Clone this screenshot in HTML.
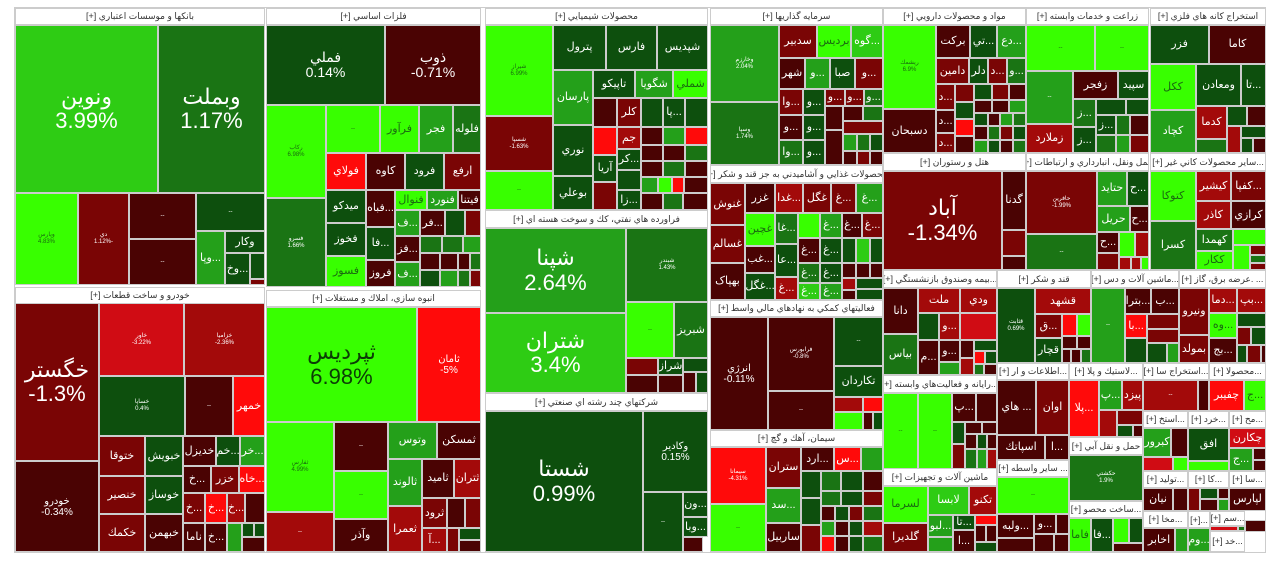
<!DOCTYPE html>
<html><head><meta charset="utf-8"><style>
body{margin:0;background:#fff;width:1280px;height:564px;overflow:hidden;position:relative;font-family:"Liberation Sans","DejaVu Sans",sans-serif}
.t{position:absolute;box-sizing:border-box;border:1px solid #ccc;display:flex;align-items:center;justify-content:center;flex-direction:column;color:#fff;text-align:center;overflow:hidden;font-size:11px;line-height:1.1;white-space:nowrap;direction:rtl}
.h{position:absolute;box-sizing:border-box;background:#fff;color:#333;font-size:9px;border:1px solid #ccc;display:flex;align-items:center;justify-content:center;overflow:hidden;white-space:nowrap;direction:rtl}
.s{font-size:6px}
.g1{background:#38ff00;color:#1a6a10}.g2{background:#2ecc14}.g3{background:#24a01a}.g4{background:#1a7414}.g5{background:#0d4f0d}
.r1{background:#ff0a0a}.r2{background:#d00c14}.r3{background:#a30a0a}.r4{background:#7a0505}.r5{background:#4a0303}
.L{font-size:22px;direction:ltr}.M{font-size:14px;direction:ltr}
</style></head><body>
<div style="position:absolute;left:14px;top:7px;width:1252px;height:546px;border:1px solid #ccc;box-sizing:border-box"></div>

<!-- Banks -->
<div class="h" style="left:15px;top:8px;width:250px;height:17px">بانکها و موسسات اعتباري [+]</div>
<div class="t g2 L" style="left:15px;top:25px;width:143px;height:168px">ونوين<br>3.99%</div>
<div class="t g4 L" style="left:158px;top:25px;width:107px;height:168px">وبملت<br>1.17%</div>
<div class="t g1 s" style="left:15px;top:193px;width:63px;height:92px">وپارس<br>4.83%</div>
<div class="t r4 s" style="left:78px;top:193px;width:51px;height:92px">دي<br>-1.12%</div>
<div class="t r5 s" style="left:129px;top:193px;width:67px;height:46px">--</div>
<div class="t r5 s" style="left:129px;top:239px;width:67px;height:46px">--</div>
<div class="t g5 s" style="left:196px;top:193px;width:69px;height:38px">--</div>
<div class="t g3" style="left:196px;top:231px;width:29px;height:54px">...وپا</div>
<div class="t g5" style="left:225px;top:231px;width:40px;height:22px">وکار</div>
<div class="t g5" style="left:225px;top:253px;width:25px;height:32px">...وخ</div>
<div class="t g5" style="left:250px;top:253px;width:15px;height:26px"></div>
<div class="t r4" style="left:250px;top:279px;width:15px;height:6px"></div>

<!-- Metals -->
<div class="h" style="left:266px;top:8px;width:215px;height:17px">فلزات اساسي [+]</div>
<div class="t g5 M" style="left:266px;top:25px;width:119px;height:80px">فملي<br>0.14%</div>
<div class="t r5 M" style="left:385px;top:25px;width:96px;height:80px">ذوب<br>-0.71%</div>
<div class="t g1 s" style="left:266px;top:105px;width:60px;height:93px">رکاب<br>6.98%</div>
<div class="t g4 s" style="left:266px;top:198px;width:60px;height:89px">فسرو<br>1.66%</div>
<div class="t g1 s" style="left:326px;top:105px;width:54px;height:48px">--</div>
<div class="t g1" style="left:380px;top:105px;width:39px;height:48px">فرآور</div>
<div class="t g3" style="left:419px;top:105px;width:34px;height:48px">فجر</div>
<div class="t g4" style="left:453px;top:105px;width:28px;height:48px">فلوله</div>
<div class="t r1" style="left:326px;top:153px;width:40px;height:37px">فولاي</div>
<div class="t r5" style="left:366px;top:153px;width:39px;height:37px">کاوه</div>
<div class="t g5" style="left:405px;top:153px;width:39px;height:37px">فرود</div>
<div class="t r4" style="left:444px;top:153px;width:37px;height:37px">ارفع</div>
<div class="t g5" style="left:326px;top:190px;width:40px;height:33px">ميدکو</div>
<div class="t r5" style="left:366px;top:190px;width:29px;height:37px">...فباه</div>
<div class="t g1" style="left:395px;top:190px;width:32px;height:20px">فنوال</div>
<div class="t g3" style="left:427px;top:190px;width:31px;height:20px">فنورد</div>
<div class="t r5" style="left:458px;top:190px;width:23px;height:20px">فيتنا</div>
<div class="t g3" style="left:395px;top:210px;width:25px;height:26px">...ف</div>
<div class="t r5" style="left:420px;top:210px;width:25px;height:26px">...فر</div>
<div class="t g5" style="left:445px;top:210px;width:20px;height:26px"></div>
<div class="t r4" style="left:465px;top:210px;width:16px;height:26px"></div>
<div class="t g5" style="left:326px;top:223px;width:40px;height:33px">فخوز</div>
<div class="t g5" style="left:366px;top:227px;width:29px;height:33px">...فا</div>
<div class="t r5" style="left:395px;top:236px;width:25px;height:26px">...فز</div>
<div class="t g4" style="left:420px;top:236px;width:22px;height:17px"></div>
<div class="t g4" style="left:442px;top:236px;width:21px;height:17px"></div>
<div class="t g3" style="left:463px;top:236px;width:18px;height:17px"></div>
<div class="t r5" style="left:420px;top:253px;width:20px;height:17px"></div>
<div class="t r5" style="left:440px;top:253px;width:18px;height:17px"></div>
<div class="t r5" style="left:458px;top:253px;width:12px;height:17px"></div>
<div class="t g4" style="left:470px;top:253px;width:11px;height:17px"></div>
<div class="t g1" style="left:326px;top:256px;width:40px;height:31px">فسوز</div>
<div class="t r5" style="left:366px;top:260px;width:29px;height:27px">فروز</div>
<div class="t g3" style="left:395px;top:262px;width:25px;height:25px">...ف</div>
<div class="t g5" style="left:420px;top:270px;width:20px;height:17px"></div>
<div class="t g3" style="left:440px;top:270px;width:18px;height:17px"></div>
<div class="t g4" style="left:458px;top:270px;width:12px;height:17px"></div>
<div class="t r4" style="left:470px;top:270px;width:11px;height:17px"></div>

<!-- Autos -->
<div class="h" style="left:15px;top:287px;width:250px;height:17px">خودرو و ساخت قطعات [+]</div>
<div class="t r4 L" style="left:15px;top:303px;width:84px;height:158px">خگستر<br>-1.3%</div>
<div class="t r5" style="left:15px;top:461px;width:84px;height:91px;font-size:10px;direction:ltr">خودرو<br>-0.34%</div>
<div class="t r2 s" style="left:99px;top:303px;width:85px;height:73px;direction:ltr">خاور<br>-3.22%</div>
<div class="t r3 s" style="left:184px;top:303px;width:81px;height:73px;direction:ltr">خزاميا<br>-2.36%</div>
<div class="t g5 s" style="left:99px;top:376px;width:86px;height:60px">خساپا<br>0.4%</div>
<div class="t r5 s" style="left:185px;top:376px;width:48px;height:60px">--</div>
<div class="t r1" style="left:233px;top:376px;width:32px;height:60px">خمهر</div>
<div class="t r4" style="left:99px;top:436px;width:46px;height:40px">ختوقا</div>
<div class="t g5" style="left:145px;top:436px;width:38px;height:40px">خبويش</div>
<div class="t r4" style="left:99px;top:476px;width:46px;height:38px">خنصير</div>
<div class="t g5" style="left:145px;top:476px;width:38px;height:38px">خوساز</div>
<div class="t r4" style="left:99px;top:514px;width:46px;height:38px">خکمك</div>
<div class="t r5" style="left:145px;top:514px;width:38px;height:38px">خبهمن</div>
<div class="t r5" style="left:183px;top:436px;width:33px;height:30px">خديزل</div>
<div class="t g5" style="left:216px;top:436px;width:24px;height:30px">...خم</div>
<div class="t g3" style="left:240px;top:436px;width:25px;height:30px">...خر</div>
<div class="t r5" style="left:183px;top:466px;width:28px;height:27px">...خ</div>
<div class="t r4" style="left:211px;top:466px;width:28px;height:27px">خزر</div>
<div class="t r1" style="left:239px;top:466px;width:26px;height:27px">...خاه</div>
<div class="t r4" style="left:183px;top:493px;width:22px;height:30px">...خ</div>
<div class="t r1" style="left:205px;top:493px;width:22px;height:30px">...خ</div>
<div class="t r3" style="left:227px;top:493px;width:18px;height:30px">...خ</div>
<div class="t r5" style="left:245px;top:493px;width:20px;height:30px"></div>
<div class="t r5" style="left:183px;top:523px;width:22px;height:29px">ناما</div>
<div class="t r5" style="left:205px;top:523px;width:22px;height:29px">...خ</div>
<div class="t g3" style="left:227px;top:523px;width:15px;height:29px"></div>
<div class="t g5" style="left:242px;top:523px;width:12px;height:14px"></div>
<div class="t g5" style="left:254px;top:523px;width:11px;height:14px"></div>
<div class="t r5" style="left:242px;top:537px;width:23px;height:15px"></div>

<!-- Construction -->
<div class="h" style="left:266px;top:290px;width:215px;height:17px">انبوه سازي، املاك و مستغلات [+]</div>
<div class="t g1 L" style="left:266px;top:307px;width:151px;height:115px;color:#0c3d06">ثپرديس<br>6.98%</div>
<div class="t r1" style="left:417px;top:307px;width:64px;height:115px;font-size:10px;direction:ltr">ثامان<br>-5%</div>
<div class="t g1 s" style="left:266px;top:422px;width:68px;height:90px">ثفارس<br>4.99%</div>
<div class="t r3 s" style="left:266px;top:512px;width:68px;height:40px">--</div>
<div class="t r5 s" style="left:334px;top:422px;width:54px;height:49px">--</div>
<div class="t g1 s" style="left:334px;top:471px;width:54px;height:48px">--</div>
<div class="t r5" style="left:334px;top:519px;width:54px;height:33px">وآذر</div>
<div class="t g3" style="left:388px;top:422px;width:49px;height:37px">وتوس</div>
<div class="t r5" style="left:437px;top:422px;width:44px;height:37px">ثمسکن</div>
<div class="t g3" style="left:388px;top:459px;width:34px;height:47px">ثالوند</div>
<div class="t r5" style="left:422px;top:459px;width:32px;height:39px">ثاميد</div>
<div class="t r3" style="left:454px;top:459px;width:27px;height:39px">ثتران</div>
<div class="t r3" style="left:388px;top:506px;width:34px;height:46px">ثعمرا</div>
<div class="t r4" style="left:422px;top:498px;width:25px;height:30px">ثرود</div>
<div class="t r5" style="left:447px;top:498px;width:18px;height:30px"></div>
<div class="t r4" style="left:465px;top:498px;width:16px;height:30px"></div>
<div class="t r3" style="left:422px;top:528px;width:25px;height:24px">...آ</div>
<div class="t r4" style="left:447px;top:528px;width:12px;height:24px"></div>
<div class="t g5" style="left:459px;top:528px;width:22px;height:12px"></div>
<div class="t r5" style="left:459px;top:540px;width:22px;height:12px"></div>

<!-- Chemicals -->
<div class="h" style="left:485px;top:8px;width:223px;height:17px">محصولات شيميايي [+]</div>
<div class="t g1 s" style="left:485px;top:25px;width:68px;height:91px">شيراز<br>6.99%</div>
<div class="t r4 s" style="left:485px;top:116px;width:68px;height:55px;direction:ltr">شسپا<br>-1.63%</div>
<div class="t g1 s" style="left:485px;top:171px;width:68px;height:39px">--</div>
<div class="t g5" style="left:553px;top:25px;width:53px;height:45px">پترول</div>
<div class="t g5" style="left:606px;top:25px;width:51px;height:45px">فارس</div>
<div class="t g5" style="left:657px;top:25px;width:51px;height:45px">شپديس</div>
<div class="t g3" style="left:553px;top:70px;width:40px;height:55px">پارسان</div>
<div class="t g5" style="left:593px;top:70px;width:42px;height:28px">تاپيکو</div>
<div class="t g3" style="left:635px;top:70px;width:38px;height:28px">شگويا</div>
<div class="t g1" style="left:673px;top:70px;width:35px;height:28px">شملي</div>
<div class="t g5" style="left:553px;top:125px;width:40px;height:51px">نوري</div>
<div class="t g5" style="left:553px;top:176px;width:40px;height:34px">بوعلي</div>
<div class="t r5" style="left:593px;top:98px;width:24px;height:29px"></div>
<div class="t r4" style="left:617px;top:98px;width:24px;height:29px">کلر</div>
<div class="t g5" style="left:641px;top:98px;width:22px;height:29px"></div>
<div class="t g5" style="left:663px;top:98px;width:22px;height:29px">...پا</div>
<div class="t g5" style="left:685px;top:98px;width:23px;height:29px"></div>
<div class="t r1" style="left:593px;top:127px;width:24px;height:28px"></div>
<div class="t r3" style="left:617px;top:127px;width:24px;height:22px">جم</div>
<div class="t r5" style="left:641px;top:127px;width:22px;height:18px"></div>
<div class="t g3" style="left:663px;top:127px;width:22px;height:18px"></div>
<div class="t r1" style="left:685px;top:127px;width:23px;height:18px"></div>
<div class="t g5" style="left:593px;top:155px;width:24px;height:27px">آريا</div>
<div class="t g5" style="left:617px;top:149px;width:24px;height:21px">...کر</div>
<div class="t g5" style="left:617px;top:170px;width:24px;height:20px"></div>
<div class="t r5" style="left:641px;top:145px;width:22px;height:16px"></div>
<div class="t r5" style="left:663px;top:145px;width:22px;height:16px"></div>
<div class="t g4" style="left:685px;top:145px;width:23px;height:16px"></div>
<div class="t r5" style="left:641px;top:161px;width:22px;height:16px"></div>
<div class="t g4" style="left:663px;top:161px;width:22px;height:16px"></div>
<div class="t r5" style="left:685px;top:161px;width:23px;height:16px"></div>
<div class="t g3" style="left:641px;top:177px;width:17px;height:16px"></div>
<div class="t g1" style="left:658px;top:177px;width:14px;height:16px"></div>
<div class="t r1" style="left:672px;top:177px;width:12px;height:16px"></div>
<div class="t r5" style="left:684px;top:177px;width:24px;height:16px"></div>
<div class="t r4" style="left:593px;top:182px;width:24px;height:28px"></div>
<div class="t g5" style="left:617px;top:190px;width:24px;height:20px">...زا</div>
<div class="t r5" style="left:641px;top:193px;width:22px;height:17px"></div>
<div class="t g4" style="left:663px;top:193px;width:20px;height:17px"></div>
<div class="t r5" style="left:683px;top:193px;width:25px;height:17px"></div>

<!-- Refinery -->
<div class="h" style="left:485px;top:210px;width:223px;height:18px">فراورده هاي نفتي، كك و سوخت هسته اي [+]</div>
<div class="t g3 L" style="left:485px;top:228px;width:141px;height:85px">شپنا<br>2.64%</div>
<div class="t g2 L" style="left:485px;top:313px;width:141px;height:80px">شتران<br>3.4%</div>
<div class="t g4 s" style="left:626px;top:228px;width:82px;height:74px">شبندر<br>1.43%</div>
<div class="t g1 s" style="left:626px;top:302px;width:48px;height:56px">--</div>
<div class="t g4" style="left:674px;top:302px;width:34px;height:56px">شبريز</div>
<div class="t r4" style="left:626px;top:358px;width:32px;height:17px"></div>
<div class="t r5" style="left:626px;top:375px;width:32px;height:18px"></div>
<div class="t g5" style="left:658px;top:358px;width:25px;height:17px">شراز</div>
<div class="t r5" style="left:658px;top:375px;width:25px;height:18px"></div>
<div class="t g5" style="left:683px;top:358px;width:25px;height:14px"></div>
<div class="t r5" style="left:683px;top:372px;width:13px;height:21px"></div>
<div class="t g5" style="left:696px;top:372px;width:12px;height:21px"></div>

<!-- Multi -->
<div class="h" style="left:485px;top:393px;width:223px;height:18px">شركتهاي چند رشته اي صنعتي [+]</div>
<div class="t g5 L" style="left:485px;top:411px;width:158px;height:141px">شستا<br>0.99%</div>
<div class="t g5" style="left:643px;top:411px;width:65px;height:81px;font-size:10px">وكادير<br>0.15%</div>
<div class="t g5 s" style="left:643px;top:492px;width:40px;height:60px">--</div>
<div class="t g5" style="left:683px;top:492px;width:25px;height:25px">...ون</div>
<div class="t g5" style="left:683px;top:517px;width:25px;height:20px">...وبا</div>
<div class="t r5" style="left:683px;top:537px;width:20px;height:15px"></div>

<!-- Investment -->
<div class="h" style="left:710px;top:8px;width:173px;height:17px">سرمايه گذاريها [+]</div>
<div class="t g3 s" style="left:710px;top:25px;width:69px;height:77px">وخارزم<br>2.04%</div>
<div class="t g4 s" style="left:710px;top:102px;width:69px;height:63px">وسپا<br>1.74%</div>
<div class="t r4" style="left:779px;top:25px;width:38px;height:33px">سدبير</div>
<div class="t g1" style="left:817px;top:25px;width:34px;height:33px">برديس</div>
<div class="t g2" style="left:851px;top:25px;width:32px;height:33px">...گوه</div>
<div class="t r5" style="left:779px;top:58px;width:26px;height:31px">شهر</div>
<div class="t g3" style="left:805px;top:58px;width:25px;height:31px">...و</div>
<div class="t g5" style="left:830px;top:58px;width:25px;height:31px">صبا</div>
<div class="t r4" style="left:855px;top:58px;width:28px;height:31px">...و</div>
<div class="t r4" style="left:779px;top:89px;width:24px;height:26px">...وا</div>
<div class="t g5" style="left:803px;top:89px;width:22px;height:26px">...و</div>
<div class="t r4" style="left:825px;top:89px;width:20px;height:17px">...و</div>
<div class="t r4" style="left:845px;top:89px;width:19px;height:17px">...و</div>
<div class="t g4" style="left:864px;top:89px;width:19px;height:17px">...و</div>
<div class="t r5" style="left:779px;top:115px;width:24px;height:25px">...و</div>
<div class="t g5" style="left:803px;top:115px;width:22px;height:25px">...و</div>
<div class="t g4" style="left:779px;top:140px;width:24px;height:25px">...وا</div>
<div class="t g5" style="left:803px;top:140px;width:22px;height:25px">...و</div>
<div class="t r5" style="left:825px;top:106px;width:18px;height:24px"></div>
<div class="t r5" style="left:843px;top:106px;width:20px;height:15px"></div>
<div class="t g4" style="left:863px;top:106px;width:20px;height:15px"></div>
<div class="t r4" style="left:843px;top:121px;width:40px;height:13px"></div>
<div class="t r5" style="left:825px;top:130px;width:18px;height:35px"></div>
<div class="t g3" style="left:843px;top:134px;width:14px;height:17px"></div>
<div class="t g4" style="left:857px;top:134px;width:13px;height:17px"></div>
<div class="t g5" style="left:870px;top:134px;width:13px;height:17px"></div>
<div class="t r5" style="left:843px;top:151px;width:14px;height:14px"></div>
<div class="t r4" style="left:857px;top:151px;width:13px;height:14px"></div>
<div class="t r5" style="left:870px;top:151px;width:13px;height:14px"></div>

<!-- Food -->
<div class="h" style="left:710px;top:165px;width:173px;height:18px">محصولات غذايي و آشاميدني به جز قند و شكر [+]</div>
<div class="t r4" style="left:710px;top:183px;width:35px;height:42px">غنوش</div>
<div class="t r4" style="left:710px;top:225px;width:35px;height:38px">غسالم</div>
<div class="t r5" style="left:710px;top:263px;width:35px;height:37px">بهپاک</div>
<div class="t r5" style="left:745px;top:183px;width:30px;height:30px">غزر</div>
<div class="t g1" style="left:745px;top:213px;width:30px;height:33px">غچين</div>
<div class="t r5" style="left:745px;top:246px;width:30px;height:27px">...غب</div>
<div class="t g5" style="left:745px;top:273px;width:30px;height:27px">...غگل</div>
<div class="t r3" style="left:775px;top:183px;width:28px;height:30px">...غدا</div>
<div class="t r4" style="left:803px;top:183px;width:28px;height:30px">غگل</div>
<div class="t r4" style="left:831px;top:183px;width:25px;height:30px">...غ</div>
<div class="t g3" style="left:856px;top:183px;width:27px;height:30px">...غ</div>
<div class="t g4" style="left:775px;top:213px;width:23px;height:31px">...غا</div>
<div class="t g5" style="left:775px;top:244px;width:23px;height:33px">...عا</div>
<div class="t r3" style="left:775px;top:277px;width:23px;height:23px">...غ</div>
<div class="t g1" style="left:798px;top:213px;width:22px;height:25px"></div>
<div class="t g3" style="left:820px;top:213px;width:22px;height:25px">...غ</div>
<div class="t r5" style="left:842px;top:213px;width:20px;height:25px">...غ</div>
<div class="t r4" style="left:862px;top:213px;width:21px;height:25px">...غ</div>
<div class="t r5" style="left:798px;top:238px;width:22px;height:25px">...غ</div>
<div class="t g5" style="left:820px;top:238px;width:22px;height:25px">...غ</div>
<div class="t g5" style="left:842px;top:238px;width:14px;height:25px"></div>
<div class="t g2" style="left:856px;top:238px;width:14px;height:25px"></div>
<div class="t g5" style="left:870px;top:238px;width:13px;height:25px"></div>
<div class="t g4" style="left:798px;top:263px;width:22px;height:20px">...غ</div>
<div class="t g5" style="left:820px;top:263px;width:22px;height:20px">...غ</div>
<div class="t r5" style="left:842px;top:263px;width:14px;height:15px"></div>
<div class="t r5" style="left:856px;top:263px;width:14px;height:15px"></div>
<div class="t r5" style="left:870px;top:263px;width:13px;height:15px"></div>
<div class="t g2" style="left:798px;top:283px;width:22px;height:17px">...غ</div>
<div class="t g3" style="left:820px;top:283px;width:22px;height:17px">...غ</div>
<div class="t r3" style="left:842px;top:278px;width:14px;height:12px"></div>
<div class="t r5" style="left:842px;top:290px;width:14px;height:10px"></div>
<div class="t g5" style="left:856px;top:278px;width:27px;height:11px"></div>
<div class="t g5" style="left:856px;top:289px;width:27px;height:11px"></div>

<!-- Financial aux -->
<div class="h" style="left:710px;top:300px;width:173px;height:17px">فعاليتهاي كمكي به نهادهاي مالي واسط [+]</div>
<div class="t r5" style="left:710px;top:317px;width:58px;height:113px;font-size:10px;direction:ltr">انرژي<br>-0.11%</div>
<div class="t r5 s" style="left:768px;top:317px;width:66px;height:74px;direction:ltr">فرابورس<br>-0.8%</div>
<div class="t r5 s" style="left:768px;top:391px;width:66px;height:39px">--</div>
<div class="t g5 s" style="left:834px;top:317px;width:49px;height:49px">--</div>
<div class="t g5" style="left:834px;top:366px;width:49px;height:31px">تکاردان</div>
<div class="t r3" style="left:834px;top:397px;width:29px;height:15px"></div>
<div class="t r1" style="left:863px;top:397px;width:20px;height:15px"></div>
<div class="t g1" style="left:834px;top:412px;width:29px;height:18px"></div>
<div class="t r5" style="left:863px;top:412px;width:10px;height:18px"></div>
<div class="t g5" style="left:873px;top:412px;width:10px;height:18px"></div>

<!-- Cement -->
<div class="h" style="left:710px;top:430px;width:173px;height:17px">سيمان، آهك و گچ [+]</div>
<div class="t r1 s" style="left:710px;top:447px;width:56px;height:57px;direction:ltr">سيمانا<br>-4.31%</div>
<div class="t g1 s" style="left:710px;top:504px;width:56px;height:48px">--</div>
<div class="t r4" style="left:766px;top:447px;width:35px;height:41px">ستران</div>
<div class="t g3" style="left:766px;top:488px;width:35px;height:35px">...سد</div>
<div class="t r5" style="left:766px;top:523px;width:35px;height:29px">ساربيل</div>
<div class="t r5" style="left:801px;top:447px;width:33px;height:24px">...ارد</div>
<div class="t r1" style="left:834px;top:447px;width:27px;height:24px">...س</div>
<div class="t g3" style="left:861px;top:447px;width:22px;height:24px"></div>
<div class="t g5" style="left:801px;top:471px;width:20px;height:27px"></div>
<div class="t g4" style="left:821px;top:471px;width:20px;height:20px"></div>
<div class="t g5" style="left:841px;top:471px;width:22px;height:20px"></div>
<div class="t r5" style="left:863px;top:471px;width:20px;height:20px"></div>
<div class="t g5" style="left:801px;top:498px;width:20px;height:27px"></div>
<div class="t r4" style="left:801px;top:525px;width:20px;height:27px"></div>
<div class="t g4" style="left:821px;top:491px;width:20px;height:15px"></div>
<div class="t g5" style="left:841px;top:491px;width:22px;height:15px"></div>
<div class="t r4" style="left:863px;top:491px;width:20px;height:15px"></div>
<div class="t r5" style="left:821px;top:506px;width:14px;height:15px"></div>
<div class="t g5" style="left:835px;top:506px;width:14px;height:15px"></div>
<div class="t r4" style="left:849px;top:506px;width:14px;height:15px"></div>
<div class="t g4" style="left:863px;top:506px;width:20px;height:15px"></div>
<div class="t g3" style="left:821px;top:521px;width:14px;height:15px"></div>
<div class="t r5" style="left:835px;top:521px;width:14px;height:15px"></div>
<div class="t g5" style="left:849px;top:521px;width:14px;height:15px"></div>
<div class="t r3" style="left:863px;top:521px;width:20px;height:15px"></div>
<div class="t r1" style="left:821px;top:536px;width:14px;height:16px"></div>
<div class="t r5" style="left:835px;top:536px;width:14px;height:16px"></div>
<div class="t g5" style="left:849px;top:536px;width:14px;height:16px"></div>
<div class="t g4" style="left:863px;top:536px;width:20px;height:16px"></div>

<!-- Pharma -->
<div class="h" style="left:883px;top:8px;width:143px;height:17px">مواد و محصولات دارويي [+]</div>
<div class="t g1 s" style="left:883px;top:25px;width:53px;height:84px">ريشمك<br>6.9%</div>
<div class="t r5" style="left:883px;top:109px;width:53px;height:44px">دسبحان</div>
<div class="t r5" style="left:936px;top:25px;width:34px;height:33px">برکت</div>
<div class="t g5" style="left:970px;top:25px;width:27px;height:33px">...تي</div>
<div class="t g3" style="left:997px;top:25px;width:29px;height:33px">...دع</div>
<div class="t r4" style="left:936px;top:58px;width:33px;height:26px">دامين</div>
<div class="t g5" style="left:969px;top:58px;width:19px;height:26px">دلر</div>
<div class="t r4" style="left:988px;top:58px;width:19px;height:26px">...د</div>
<div class="t g4" style="left:1007px;top:58px;width:19px;height:26px">...و</div>
<div class="t r4" style="left:936px;top:84px;width:19px;height:26px">...د</div>
<div class="t r5" style="left:936px;top:110px;width:19px;height:23px">...د</div>
<div class="t r4" style="left:936px;top:133px;width:19px;height:20px">...د</div>
<div class="t r4" style="left:955px;top:84px;width:19px;height:18px"></div>
<div class="t g5" style="left:955px;top:102px;width:19px;height:17px"></div>
<div class="t r1" style="left:955px;top:119px;width:19px;height:17px"></div>
<div class="t r5" style="left:955px;top:136px;width:19px;height:17px"></div>
<div class="t g5" style="left:974px;top:84px;width:18px;height:16px"></div>
<div class="t r4" style="left:992px;top:84px;width:17px;height:16px"></div>
<div class="t r5" style="left:1009px;top:84px;width:17px;height:16px"></div>
<div class="t r5" style="left:974px;top:100px;width:18px;height:13px"></div>
<div class="t r5" style="left:992px;top:100px;width:17px;height:13px"></div>
<div class="t g3" style="left:1009px;top:100px;width:17px;height:13px"></div>
<div class="t g5" style="left:974px;top:113px;width:14px;height:13px"></div>
<div class="t r5" style="left:988px;top:113px;width:12px;height:13px"></div>
<div class="t g3" style="left:1000px;top:113px;width:13px;height:13px"></div>
<div class="t g4" style="left:1013px;top:113px;width:13px;height:13px"></div>
<div class="t r5" style="left:974px;top:126px;width:14px;height:14px"></div>
<div class="t g4" style="left:988px;top:126px;width:12px;height:14px"></div>
<div class="t r4" style="left:1000px;top:126px;width:13px;height:14px"></div>
<div class="t g5" style="left:1013px;top:126px;width:13px;height:14px"></div>
<div class="t g3" style="left:974px;top:140px;width:14px;height:13px"></div>
<div class="t g5" style="left:988px;top:140px;width:12px;height:13px"></div>
<div class="t r5" style="left:1000px;top:140px;width:13px;height:13px"></div>
<div class="t g4" style="left:1013px;top:140px;width:13px;height:13px"></div>

<!-- Agriculture -->
<div class="h" style="left:1026px;top:8px;width:123px;height:17px">زراعت و خدمات وابسته [+]</div>
<div class="t g1 s" style="left:1026px;top:25px;width:69px;height:46px">--</div>
<div class="t g1 s" style="left:1095px;top:25px;width:54px;height:46px">--</div>
<div class="t g3 s" style="left:1026px;top:71px;width:47px;height:53px">--</div>
<div class="t r3" style="left:1026px;top:124px;width:47px;height:29px">زملارد</div>
<div class="t r5" style="left:1073px;top:71px;width:45px;height:28px">زفجر</div>
<div class="t g5" style="left:1118px;top:71px;width:31px;height:28px">سپيد</div>
<div class="t g4" style="left:1073px;top:99px;width:23px;height:28px">...ز</div>
<div class="t g5" style="left:1073px;top:127px;width:23px;height:26px">...ز</div>
<div class="t g5" style="left:1096px;top:99px;width:30px;height:16px"></div>
<div class="t g5" style="left:1126px;top:99px;width:23px;height:16px"></div>
<div class="t g5" style="left:1096px;top:115px;width:20px;height:20px">...ز</div>
<div class="t g4" style="left:1116px;top:115px;width:14px;height:20px"></div>
<div class="t r5" style="left:1130px;top:115px;width:19px;height:20px"></div>
<div class="t g4" style="left:1096px;top:135px;width:20px;height:18px"></div>
<div class="t g3" style="left:1116px;top:135px;width:14px;height:18px"></div>
<div class="t r4" style="left:1130px;top:135px;width:19px;height:18px"></div>

<!-- Mining -->
<div class="h" style="left:1150px;top:8px;width:116px;height:17px">استخراج کانه هاي فلزي [+]</div>
<div class="t g5" style="left:1150px;top:25px;width:59px;height:39px">فزر</div>
<div class="t r5" style="left:1209px;top:25px;width:57px;height:39px">کاما</div>
<div class="t g1" style="left:1150px;top:64px;width:46px;height:46px">ککل</div>
<div class="t g3" style="left:1150px;top:110px;width:46px;height:43px">کچاد</div>
<div class="t g5" style="left:1196px;top:64px;width:45px;height:42px">ومعادن</div>
<div class="t g5" style="left:1241px;top:64px;width:25px;height:42px">...تا</div>
<div class="t r3" style="left:1196px;top:106px;width:31px;height:33px">کدما</div>
<div class="t g5" style="left:1227px;top:106px;width:20px;height:20px"></div>
<div class="t r5" style="left:1247px;top:106px;width:19px;height:20px"></div>
<div class="t r3" style="left:1227px;top:126px;width:14px;height:27px"></div>
<div class="t g5" style="left:1241px;top:126px;width:25px;height:12px"></div>
<div class="t g4" style="left:1196px;top:139px;width:31px;height:14px"></div>
<div class="t g5" style="left:1241px;top:138px;width:12px;height:15px"></div>
<div class="t r5" style="left:1253px;top:138px;width:13px;height:15px"></div>

<!-- Hotel -->
<div class="h" style="left:883px;top:153px;width:143px;height:18px">هتل و رستوران [+]</div>
<div class="t r4 L" style="left:883px;top:171px;width:119px;height:99px">آباد<br>-1.34%</div>
<div class="t r5" style="left:1002px;top:171px;width:24px;height:59px">گدنا</div>
<div class="t r4" style="left:1002px;top:230px;width:24px;height:26px"></div>
<div class="t r5" style="left:1002px;top:256px;width:24px;height:14px"></div>

<!-- Transport -->
<div class="h" style="left:1026px;top:153px;width:123px;height:18px">حمل ونقل، انبارداري و ارتباطات [+]</div>
<div class="t r4 s" style="left:1026px;top:171px;width:71px;height:63px;direction:ltr">حافرين<br>-1.99%</div>
<div class="t g4 s" style="left:1026px;top:234px;width:71px;height:36px">--</div>
<div class="t g3" style="left:1097px;top:171px;width:30px;height:35px">حتايد</div>
<div class="t g5" style="left:1127px;top:171px;width:22px;height:35px">...ح</div>
<div class="t g3" style="left:1097px;top:206px;width:33px;height:26px">حريل</div>
<div class="t r5" style="left:1130px;top:206px;width:19px;height:26px">...ح</div>
<div class="t r5" style="left:1097px;top:232px;width:22px;height:21px">...ح</div>
<div class="t r4" style="left:1097px;top:253px;width:22px;height:17px"></div>
<div class="t g1" style="left:1119px;top:232px;width:16px;height:25px"></div>
<div class="t r3" style="left:1135px;top:232px;width:14px;height:25px"></div>
<div class="t r3" style="left:1119px;top:257px;width:12px;height:13px"></div>
<div class="t r3" style="left:1131px;top:257px;width:10px;height:13px"></div>
<div class="t g1" style="left:1141px;top:257px;width:8px;height:13px"></div>

<!-- Other non-metal -->
<div class="h" style="left:1150px;top:153px;width:116px;height:18px">...ساير محصولات كاني غير [+]</div>
<div class="t g1" style="left:1150px;top:171px;width:46px;height:50px">کتوکا</div>
<div class="t g4" style="left:1150px;top:221px;width:46px;height:49px">کسرا</div>
<div class="t r3" style="left:1196px;top:171px;width:35px;height:30px">کيشير</div>
<div class="t r4" style="left:1231px;top:171px;width:35px;height:30px">...کفپا</div>
<div class="t r3" style="left:1196px;top:201px;width:35px;height:28px">کاذر</div>
<div class="t r5" style="left:1231px;top:201px;width:35px;height:28px">کرازي</div>
<div class="t g4" style="left:1196px;top:229px;width:37px;height:22px">کهمدا</div>
<div class="t g1" style="left:1233px;top:229px;width:33px;height:16px"></div>
<div class="t g1" style="left:1196px;top:251px;width:37px;height:19px">ککار</div>
<div class="t g1" style="left:1233px;top:245px;width:17px;height:25px"></div>
<div class="t r4" style="left:1250px;top:245px;width:16px;height:10px"></div>
<div class="t g4" style="left:1250px;top:255px;width:16px;height:8px"></div>
<div class="t r4" style="left:1250px;top:263px;width:16px;height:7px"></div>

<!-- Insurance -->
<div class="h" style="left:883px;top:270px;width:114px;height:18px">...بيمه وصندوق بازنشستگي [+]</div>
<div class="t r5" style="left:883px;top:288px;width:35px;height:46px">دانا</div>
<div class="t g4" style="left:883px;top:334px;width:35px;height:41px">بياس</div>
<div class="t r3" style="left:918px;top:288px;width:42px;height:25px">ملت</div>
<div class="t r3" style="left:960px;top:288px;width:37px;height:25px">ودي</div>
<div class="t g5" style="left:918px;top:313px;width:21px;height:27px"></div>
<div class="t r3" style="left:939px;top:313px;width:21px;height:27px">...و</div>
<div class="t r2" style="left:960px;top:313px;width:37px;height:27px"></div>
<div class="t r5" style="left:918px;top:340px;width:21px;height:35px">...م</div>
<div class="t r5" style="left:939px;top:340px;width:21px;height:22px">...و</div>
<div class="t g3" style="left:939px;top:362px;width:21px;height:13px"></div>
<div class="t r5" style="left:960px;top:340px;width:14px;height:18px"></div>
<div class="t g5" style="left:974px;top:340px;width:23px;height:11px"></div>
<div class="t r3" style="left:960px;top:358px;width:14px;height:17px"></div>
<div class="t r1" style="left:974px;top:351px;width:11px;height:13px"></div>
<div class="t g5" style="left:985px;top:351px;width:12px;height:13px"></div>
<div class="t g4" style="left:974px;top:364px;width:10px;height:11px"></div>
<div class="t r5" style="left:984px;top:364px;width:13px;height:11px"></div>

<!-- Sugar -->
<div class="h" style="left:997px;top:270px;width:94px;height:18px">قند و شكر [+]</div>
<div class="t g5 s" style="left:997px;top:288px;width:38px;height:75px">قثابت<br>0.69%</div>
<div class="t r3" style="left:1035px;top:288px;width:56px;height:26px">قشهد</div>
<div class="t r4" style="left:1035px;top:314px;width:27px;height:24px">...ق</div>
<div class="t g5" style="left:1035px;top:338px;width:27px;height:25px">قچار</div>
<div class="t r1" style="left:1062px;top:314px;width:15px;height:22px"></div>
<div class="t g1" style="left:1077px;top:314px;width:14px;height:22px"></div>
<div class="t r5" style="left:1062px;top:336px;width:15px;height:13px"></div>
<div class="t r5" style="left:1077px;top:336px;width:14px;height:13px"></div>
<div class="t r5" style="left:1062px;top:349px;width:9px;height:14px"></div>
<div class="t r5" style="left:1071px;top:349px;width:10px;height:14px"></div>
<div class="t g4" style="left:1081px;top:349px;width:10px;height:14px"></div>

<!-- Machinery 2 -->
<div class="h" style="left:1091px;top:270px;width:88px;height:18px">...ماشين آلات و دس [+]</div>
<div class="t g3 s" style="left:1091px;top:288px;width:34px;height:75px">--</div>
<div class="t r5" style="left:1125px;top:288px;width:26px;height:26px">...بترا</div>
<div class="t r5" style="left:1151px;top:288px;width:28px;height:26px">...ب</div>
<div class="t r1" style="left:1125px;top:314px;width:22px;height:24px">...با</div>
<div class="t g5" style="left:1125px;top:338px;width:22px;height:25px"></div>
<div class="t r4" style="left:1147px;top:314px;width:32px;height:15px"></div>
<div class="t r4" style="left:1147px;top:329px;width:32px;height:14px"></div>
<div class="t g5" style="left:1147px;top:343px;width:20px;height:20px"></div>
<div class="t g3" style="left:1167px;top:343px;width:12px;height:20px"></div>

<!-- Electricity -->
<div class="h" style="left:1179px;top:270px;width:87px;height:18px">... .عرضه برق، گاز [+]</div>
<div class="t r4" style="left:1179px;top:288px;width:30px;height:47px">ونيرو</div>
<div class="t r4" style="left:1179px;top:335px;width:30px;height:28px">بمولد</div>
<div class="t r3" style="left:1209px;top:288px;width:28px;height:25px">...دما</div>
<div class="t r3" style="left:1237px;top:288px;width:29px;height:25px">...بپ</div>
<div class="t g1" style="left:1209px;top:313px;width:28px;height:25px">...وه</div>
<div class="t r5" style="left:1209px;top:338px;width:28px;height:25px">...بج</div>
<div class="t g5" style="left:1237px;top:313px;width:29px;height:14px"></div>
<div class="t r4" style="left:1237px;top:327px;width:14px;height:18px"></div>
<div class="t g5" style="left:1251px;top:327px;width:15px;height:18px"></div>
<div class="t g5" style="left:1237px;top:345px;width:10px;height:18px"></div>
<div class="t r4" style="left:1247px;top:345px;width:14px;height:18px"></div>
<div class="t r5" style="left:1261px;top:345px;width:5px;height:18px"></div>

<!-- Computer -->
<div class="h" style="left:883px;top:375px;width:114px;height:18px">...رايانه و فعاليت‌هاي وابسته [+]</div>
<div class="t g1 s" style="left:883px;top:393px;width:35px;height:76px">--</div>
<div class="t g1 s" style="left:918px;top:393px;width:34px;height:76px">--</div>
<div class="t r5" style="left:952px;top:393px;width:24px;height:29px">...پ</div>
<div class="t r5" style="left:976px;top:393px;width:21px;height:29px"></div>
<div class="t g5" style="left:952px;top:422px;width:13px;height:22px"></div>
<div class="t r5" style="left:965px;top:422px;width:17px;height:12px"></div>
<div class="t r5" style="left:982px;top:422px;width:15px;height:12px"></div>
<div class="t r4" style="left:952px;top:444px;width:13px;height:25px"></div>
<div class="t r5" style="left:965px;top:434px;width:12px;height:15px"></div>
<div class="t g5" style="left:977px;top:434px;width:10px;height:15px"></div>
<div class="t r5" style="left:987px;top:434px;width:10px;height:15px"></div>
<div class="t g4" style="left:965px;top:449px;width:12px;height:20px"></div>
<div class="t g3" style="left:977px;top:449px;width:10px;height:20px"></div>
<div class="t r3" style="left:987px;top:449px;width:10px;height:20px"></div>

<!-- Machinery -->
<div class="h" style="left:883px;top:468px;width:114px;height:18px">ماشين آلات و تجهيزات [+]</div>
<div class="t g1" style="left:883px;top:486px;width:45px;height:37px">لسرما</div>
<div class="t r4" style="left:883px;top:523px;width:45px;height:29px">گلديرا</div>
<div class="t g2" style="left:928px;top:486px;width:41px;height:29px">لابسا</div>
<div class="t r3" style="left:969px;top:486px;width:28px;height:29px">تکنو</div>
<div class="t g3" style="left:928px;top:515px;width:25px;height:22px">...لبو</div>
<div class="t g5" style="left:953px;top:515px;width:22px;height:15px">...تا</div>
<div class="t r1" style="left:975px;top:515px;width:22px;height:10px"></div>
<div class="t g3" style="left:928px;top:537px;width:25px;height:15px"></div>
<div class="t r5" style="left:953px;top:530px;width:22px;height:22px">...ا</div>
<div class="t r5" style="left:975px;top:525px;width:11px;height:17px"></div>
<div class="t r5" style="left:986px;top:525px;width:11px;height:17px"></div>
<div class="t g5" style="left:975px;top:542px;width:22px;height:10px"></div>

<!-- Info -->
<div class="h" style="left:997px;top:363px;width:72px;height:17px">...اطلاعات و ار [+]</div>
<div class="t r5" style="left:997px;top:380px;width:39px;height:55px">... هاي</div>
<div class="t r4" style="left:1036px;top:380px;width:33px;height:55px">اوان</div>
<div class="t r5" style="left:997px;top:435px;width:48px;height:25px">اسپاتك</div>
<div class="t r5" style="left:1045px;top:435px;width:24px;height:25px">...ا</div>

<!-- Other intermediaries -->
<div class="h" style="left:997px;top:460px;width:72px;height:17px">... ساير واسطه [+]</div>
<div class="t g1 s" style="left:997px;top:477px;width:72px;height:37px">--</div>
<div class="t r5" style="left:997px;top:514px;width:37px;height:24px">...ولبه</div>
<div class="t r5" style="left:997px;top:538px;width:37px;height:14px"></div>
<div class="t r5" style="left:1034px;top:514px;width:22px;height:20px">...و</div>
<div class="t r5" style="left:1056px;top:514px;width:13px;height:20px"></div>
<div class="t r5" style="left:1034px;top:534px;width:20px;height:18px"></div>
<div class="t r5" style="left:1054px;top:534px;width:15px;height:18px"></div>

<!-- Plastic -->
<div class="h" style="left:1069px;top:363px;width:74px;height:17px">...لاستيك و پلا [+]</div>
<div class="t r1" style="left:1069px;top:380px;width:30px;height:57px">...پلا</div>
<div class="t g3" style="left:1099px;top:380px;width:23px;height:30px">...پ</div>
<div class="t r3" style="left:1122px;top:380px;width:21px;height:30px">پيزد</div>
<div class="t r3" style="left:1099px;top:410px;width:18px;height:27px"></div>
<div class="t r4" style="left:1117px;top:410px;width:26px;height:15px"></div>
<div class="t g5" style="left:1117px;top:425px;width:16px;height:12px"></div>
<div class="t r5" style="left:1133px;top:425px;width:10px;height:12px"></div>

<!-- Water transport -->
<div class="h" style="left:1069px;top:437px;width:74px;height:18px">حمل و نقل آبي [+]</div>
<div class="t g4 s" style="left:1069px;top:455px;width:74px;height:46px">حکشتي<br>1.9%</div>
<div class="h" style="left:1069px;top:501px;width:74px;height:17px">...ساخت محصو [+]</div>
<div class="t g1" style="left:1069px;top:518px;width:22px;height:34px">فاما</div>
<div class="t g5" style="left:1091px;top:518px;width:22px;height:34px">...فا</div>
<div class="t g1" style="left:1113px;top:518px;width:16px;height:25px"></div>
<div class="t g5" style="left:1129px;top:518px;width:14px;height:25px"></div>
<div class="t r5" style="left:1113px;top:543px;width:30px;height:9px"></div>

<!-- small sectors right -->
<div class="h" style="left:1143px;top:363px;width:66px;height:17px">...استخراج سا [+]</div>
<div class="t r3 s" style="left:1143px;top:380px;width:55px;height:31px">--</div>
<div class="t r5" style="left:1198px;top:380px;width:11px;height:31px"></div>
<div class="h" style="left:1209px;top:363px;width:57px;height:17px">...محصولا [+]</div>
<div class="t r1" style="left:1209px;top:380px;width:35px;height:31px">چفيبر</div>
<div class="t g1" style="left:1244px;top:380px;width:22px;height:31px">...ج</div>

<div class="h" style="left:1143px;top:411px;width:45px;height:17px">...استخ [+]</div>
<div class="t g3" style="left:1143px;top:428px;width:28px;height:29px">کبرور</div>
<div class="t r5" style="left:1171px;top:428px;width:17px;height:29px"></div>
<div class="t r2" style="left:1143px;top:457px;width:30px;height:14px"></div>
<div class="t g1" style="left:1173px;top:457px;width:15px;height:14px"></div>
<div class="h" style="left:1188px;top:411px;width:41px;height:17px">...خرد [+]</div>
<div class="t g5" style="left:1188px;top:428px;width:41px;height:33px">افق</div>
<div class="t g1" style="left:1188px;top:461px;width:41px;height:10px"></div>
<div class="h" style="left:1229px;top:411px;width:37px;height:17px">...مح [+]</div>
<div class="t r2" style="left:1229px;top:428px;width:37px;height:20px">چکارن</div>
<div class="t g3" style="left:1229px;top:448px;width:24px;height:23px">...ج</div>
<div class="t r5" style="left:1253px;top:448px;width:13px;height:12px"></div>
<div class="t r5" style="left:1253px;top:460px;width:13px;height:11px"></div>

<div class="h" style="left:1143px;top:471px;width:45px;height:17px">...توليد [+]</div>
<div class="t r5" style="left:1143px;top:488px;width:30px;height:23px">نيان</div>
<div class="t r5" style="left:1173px;top:488px;width:15px;height:23px"></div>
<div class="h" style="left:1188px;top:471px;width:41px;height:17px">...کا [+]</div>
<div class="t r4" style="left:1188px;top:488px;width:12px;height:23px"></div>
<div class="t g5" style="left:1200px;top:488px;width:18px;height:11px"></div>
<div class="t r5" style="left:1200px;top:499px;width:18px;height:12px"></div>
<div class="t r5" style="left:1218px;top:488px;width:11px;height:11px"></div>
<div class="t g3" style="left:1218px;top:499px;width:11px;height:12px"></div>
<div class="h" style="left:1229px;top:471px;width:37px;height:17px">...سا [+]</div>
<div class="t r5" style="left:1229px;top:488px;width:37px;height:23px">لپارس</div>

<div class="h" style="left:1143px;top:511px;width:45px;height:17px">...مخا [+]</div>
<div class="t r5" style="left:1143px;top:528px;width:32px;height:24px">اخابر</div>
<div class="t g3" style="left:1175px;top:528px;width:13px;height:24px"></div>
<div class="h" style="left:1188px;top:511px;width:22px;height:17px">...[+]</div>
<div class="t g3" style="left:1188px;top:528px;width:22px;height:24px">...وم</div>
<div class="h" style="left:1210px;top:511px;width:35px;height:15px">...سم [+]</div>
<div class="t r2" style="left:1210px;top:526px;width:28px;height:5px"></div>
<div class="t g4" style="left:1238px;top:526px;width:7px;height:5px"></div>
<div class="h" style="left:1210px;top:531px;width:35px;height:21px">...خد [+]</div>
<div class="t r5" style="left:1245px;top:520px;width:21px;height:12px"></div>
</body></html>
